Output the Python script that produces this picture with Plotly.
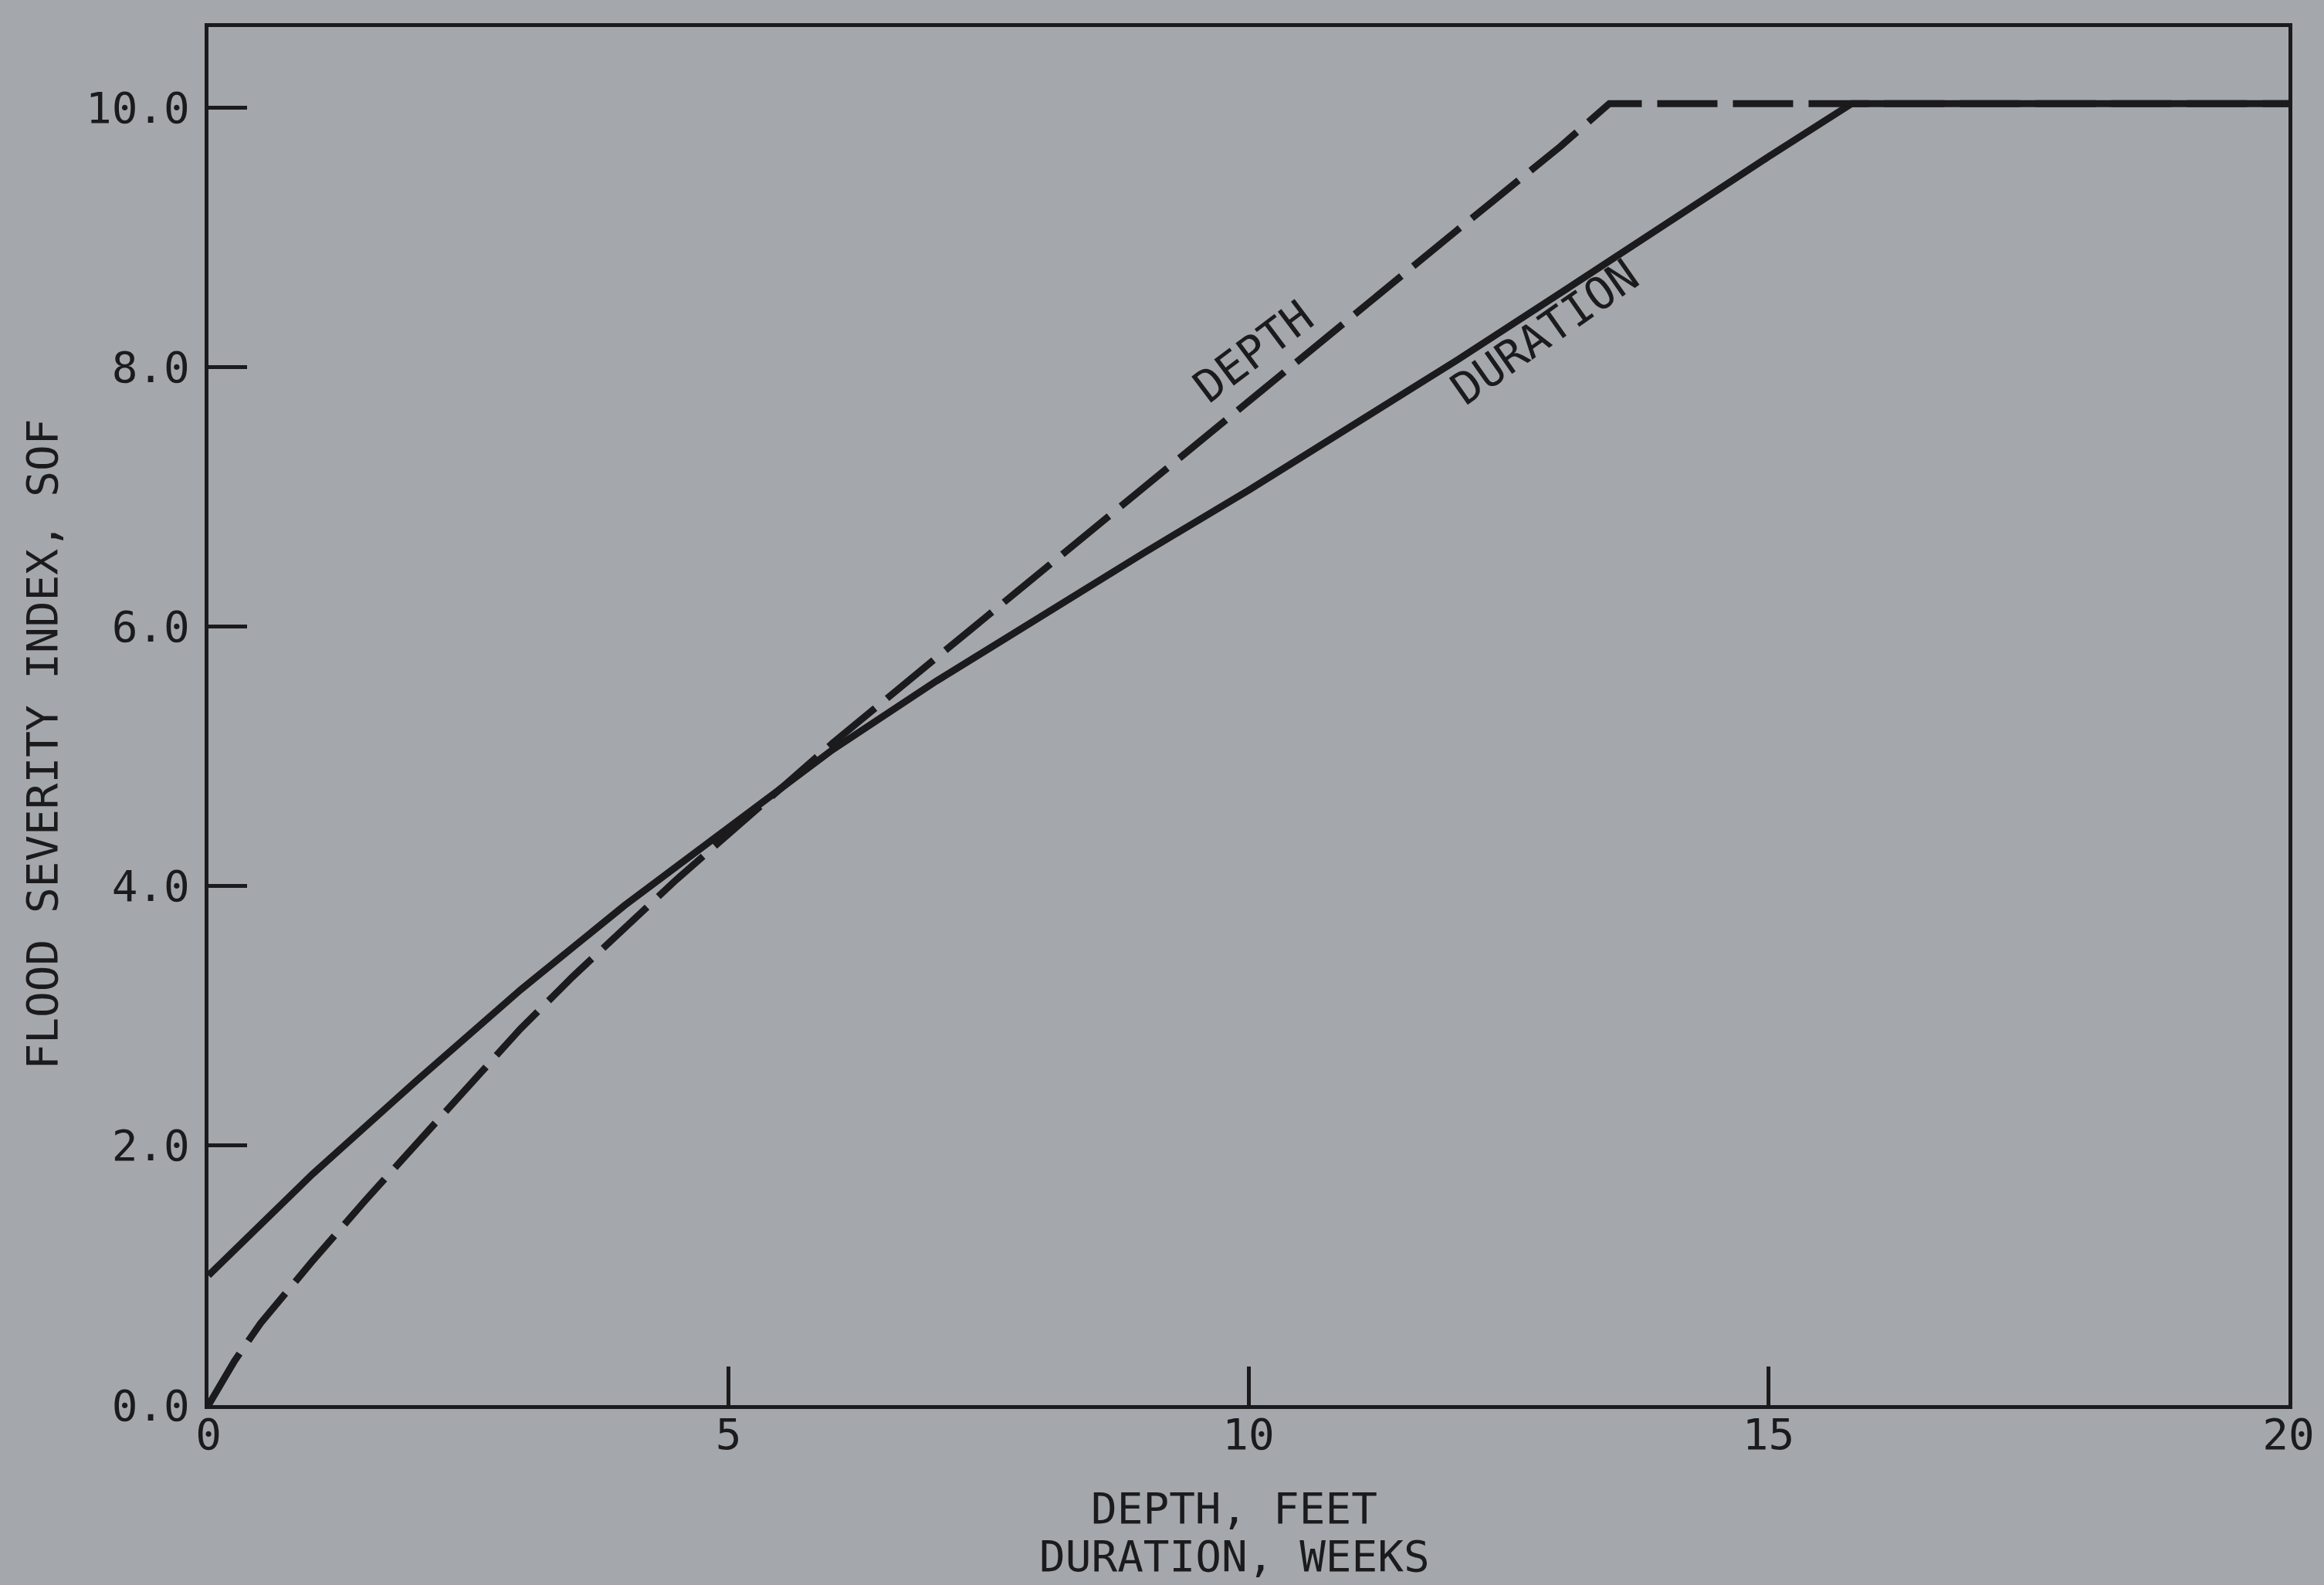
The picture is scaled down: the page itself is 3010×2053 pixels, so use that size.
import plotly.graph_objects as go

# ---- data ----
depth_x = [0, 0.25, 0.5, 0.75, 1, 1.5, 2, 2.5, 3, 3.5, 4, 4.5, 5, 5.5, 6, 7, 8, 9, 10, 11, 12, 13,
           13.47, 20]
depth_y = [0, 0.34, 0.63, 0.88, 1.11, 1.57, 2.02, 2.47, 2.9, 3.3, 3.68, 4.05, 4.4, 4.75, 5.1, 5.76,
           6.42, 7.08, 7.74, 8.4, 9.05, 9.7, 10.03, 10.03]

duration_x = [0, 1, 2, 3, 4, 5, 6, 7, 8, 9, 10, 11, 12, 13, 14, 15, 15.8, 20]
duration_y = [1.0, 1.78, 2.5, 3.2, 3.85, 4.45, 5.05, 5.58, 6.08, 6.57, 7.05, 7.55, 8.05,
              8.57, 9.1, 9.62, 10.03, 10.03]

x_ticks = [0, 5, 10, 15, 20]
y_ticks = [0, 2, 4, 6, 8, 10]

x_title_lines = ["DEPTH, FEET", "DURATION, WEEKS"]
y_title = "FLOOD SEVERITY INDEX, SOF"

BG = "rgb(164,167,172)"
INK = "#1b1b1d"
FONT = "DejaVu Sans Mono"

fig = go.Figure()

fig.add_trace(go.Scatter(
    x=duration_x, y=duration_y, mode="lines", name="DURATION",
    line=dict(color=INK, width=9), showlegend=False))

fig.add_trace(go.Scatter(
    x=depth_x, y=depth_y, mode="lines", name="DEPTH",
    line=dict(color=INK, width=9, dash="78px,20px"), showlegend=False))

axis_common = dict(
    showline=True, linecolor=INK, linewidth=5, mirror=True,
    ticks="inside", ticklen=50, tickwidth=5, tickcolor=INK,
    showgrid=False, zeroline=False,
    tickfont=dict(family=FONT, size=56, color=INK),
)

fig.update_xaxes(range=[0, 20], tickvals=x_ticks, ticktext=[str(v) for v in x_ticks],
                 ticklabelstandoff=-15, **axis_common)
fig.update_yaxes(range=[0, 10.62], tickvals=y_ticks, tickformat=".1f",
                 ticklabelstandoff=8, **axis_common)

# curve labels
fig.add_annotation(x=10.05, y=8.12, xref="x", yref="y", text="DEPTH", showarrow=False,
                   textangle=-37, font=dict(family=FONT, size=58, color=INK))
fig.add_annotation(x=12.85, y=8.27, xref="x", yref="y", text="DURATION", showarrow=False,
                   textangle=-35, font=dict(family=FONT, size=58, color=INK))

# axis titles
fig.add_annotation(x=0.4933, y=-0.075, xref="paper", yref="paper", text=x_title_lines[0],
                   showarrow=False, yanchor="middle",
                   font=dict(family=FONT, size=56, color=INK))
fig.add_annotation(x=0.4933, y=-0.1098, xref="paper", yref="paper", text=x_title_lines[1],
                   showarrow=False, yanchor="middle",
                   font=dict(family=FONT, size=56, color=INK))
fig.add_annotation(x=-0.08, y=0.4796, xref="paper", yref="paper", text=y_title,
                   showarrow=False, textangle=-90, xanchor="center", yanchor="middle",
                   font=dict(family=FONT, size=56, color=INK))

fig.update_layout(
    width=3010, height=2053,
    margin=dict(l=270, r=38, t=35, b=233),
    paper_bgcolor=BG, plot_bgcolor=BG,
    showlegend=False,
)

fig.write_html(
    "out.html",
    config={"displayModeBar": False},
    post_script="document.body.style.margin='0';document.body.style.background='%s';" % BG,
)
